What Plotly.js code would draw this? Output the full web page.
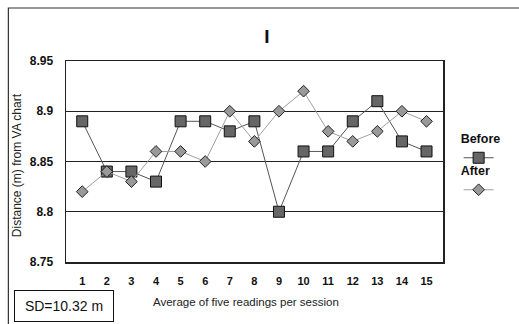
<!DOCTYPE html>
<html><head><meta charset="utf-8">
<script src="https://cdn.plot.ly/plotly-3.0.1.min.js"></script>
<style>html,body{margin:0;padding:0;background:#fff}#chart{width:519px;height:324px}</style>
</head><body><div id="chart"></div>
<script>
const sessions = [1,2,3,4,5,6,7,8,9,10,11,12,13,14,15];
const before = [8.89,8.84,8.84,8.83,8.89,8.89,8.88,8.89,8.80,8.86,8.86,8.89,8.91,8.87,8.86];
const after  = [8.82,8.84,8.83,8.86,8.86,8.85,8.90,8.87,8.90,8.92,8.88,8.87,8.88,8.90,8.89];
const yTicks = [8.75,8.8,8.85,8.9,8.95];
const yTickText = ['8.75','8.8','8.85','8.9','8.95'];

const FONT = 'Liberation Sans, Arial, sans-serif';
const traces = [
  {x: sessions, y: before, name: ' ', type: 'scatter', mode: 'lines+markers',
   line: {color: '#555', width: 1},
   marker: {symbol: 'square', size: 11, color: '#666', line: {color: '#111', width: 1}},
   legend: 'legend'},
  {x: sessions, y: after, name: ' ', type: 'scatter', mode: 'lines+markers',
   line: {color: '#a0a0a0', width: 1},
   marker: {symbol: 'diamond', size: 9, color: '#999', line: {color: '#222', width: 1}},
   legend: 'legend2'}
];

const W = 519, H = 324, L = 66, R = 67, T = 61, B = 62;
const pw = W - L - R, ph = H - T - B;
const px = v => (v - L) / pw;
const py = v => (H - B - v) / ph;

const layout = {
  width: W, height: H,
  margin: {l: L, r: R, t: T, b: B},
  paper_bgcolor: '#fff', plot_bgcolor: '#fff',
  font: {family: FONT, color: '#111'},
  title: {text: '<b>I</b>', font: {size: 19, family: FONT, color: '#111'},
          x: 267 / W, xanchor: 'center', y: 1 - 36 / H, yanchor: 'middle', xref: 'container', yref: 'container'},
  xaxis: {range: [0.34, 15.67], tickvals: sessions, ticktext: sessions.map(String),
          tickfont: {size: 11, family: FONT, weight: 'bold'}, showgrid: false, zeroline: false,
          showline: true, mirror: true, linecolor: '#222', linewidth: 1.5,
          ticks: 'outside', ticklen: 8, tickcolor: 'rgba(0,0,0,0)', fixedrange: true},
  yaxis: {range: [8.75, 8.95], tickvals: yTicks, ticktext: yTickText,
          tickfont: {size: 12, family: FONT, weight: 'bold'},
          showgrid: true, gridcolor: '#222', gridwidth: 1.2, zeroline: false,
          showline: true, mirror: true, linecolor: '#222', linewidth: 1.5,
          ticks: 'outside', ticklen: 9, tickcolor: 'rgba(0,0,0,0)',
          fixedrange: true},
  showlegend: true,
  legend: {x: px(468), y: py(127), xanchor: 'left', yanchor: 'top',
           title: {text: '<b>Before</b>', side: 'top', font: {size: 12.5, family: FONT}},
           font: {size: 7, family: FONT}, itemwidth: 30, bgcolor: 'rgba(0,0,0,0)'},
  legend2: {x: px(468), y: py(159), xanchor: 'left', yanchor: 'top',
           title: {text: '<b>After</b>', side: 'top', font: {size: 12.5, family: FONT}},
           font: {size: 8, family: FONT}, itemwidth: 30, bgcolor: 'rgba(0,0,0,0)'},
  annotations: [
    {text: 'Distance (m) from VA chart', xref: 'paper', yref: 'paper', textangle: -90,
     x: px(16), y: py(165), xanchor: 'center', yanchor: 'middle', showarrow: false,
     font: {size: 12, family: FONT, color: '#222'}},
    {text: 'Average of five readings per session', xref: 'paper', yref: 'paper',
     x: px(250), y: py(302), xanchor: 'center', yanchor: 'middle', showarrow: false,
     font: {size: 11.5, family: FONT, color: '#222'}},
    {text: 'SD=10.32 m', xref: 'paper', yref: 'paper',
     x: px(64), y: py(306), xanchor: 'center', yanchor: 'middle', showarrow: false,
     font: {size: 14, family: FONT, color: '#111'}, bordercolor: '#111', borderwidth: 1,
     borderpad: 5, bgcolor: '#fff', width: 88, height: 20}
  ],
  shapes: [
    {type: 'rect', xref: 'paper', yref: 'paper', x0: px(7), x1: px(540), y0: py(340), y1: py(8),
     line: {color: '#333', width: 1.2}, fillcolor: 'rgba(0,0,0,0)', layer: 'below'}
  ]
};

Plotly.newPlot('chart', traces, layout, {displayModeBar: false, staticPlot: true});
</script></body></html>
